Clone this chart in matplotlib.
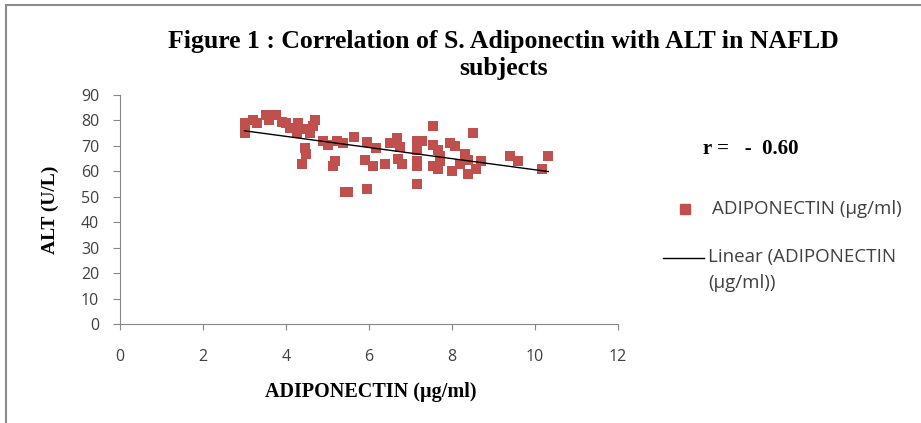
import numpy as np
import matplotlib.pyplot as plt
from matplotlib.lines import Line2D

# ADIPONECTIN (ug/ml) vs ALT (U/L)
adiponectin = [3.0, 3.0, 3.2, 3.3, 3.53, 3.6, 3.76, 3.9, 4.0, 4.1, 4.26, 4.3, 4.4,
               4.58, 4.64, 4.7, 4.46, 4.48, 4.38, 4.9, 5.02, 5.22, 5.38, 5.64,
               5.18, 5.14, 5.42, 5.5, 5.9, 6.1, 5.94, 5.94, 6.18, 6.39, 6.5, 6.67,
               6.75, 6.71, 6.8, 7.15, 7.27, 7.15, 7.15, 7.15, 7.15, 7.55, 8.5,
               7.55, 7.67, 7.95, 8.07, 8.31, 7.71, 7.71, 7.55, 7.67, 8.19, 8.39,
               8.71, 7.99, 8.39, 8.59, 9.4, 9.6, 10.32, 10.18]
alt = [79, 75, 80, 79, 82, 80, 82, 79.5, 79, 77, 75, 79, 76.5,
       75, 78, 80, 69, 67, 63, 72, 70.5, 72, 71, 73.5,
       64, 62, 52, 52, 64.5, 62, 71.5, 53, 69, 63, 71, 73,
       69.5, 65, 63, 72, 72, 68.5, 64, 62, 55, 78, 75,
       70.5, 68.5, 71, 70, 67, 66, 64, 62, 61, 63, 64.5,
       64, 60, 59, 61, 66, 64, 66, 61]

x_ticks = [0, 2, 4, 6, 8, 10, 12]
y_ticks = [0, 10, 20, 30, 40, 50, 60, 70, 80, 90]

red = '#C0504D'
serif = ['Liberation Serif', 'DejaVu Serif']
sans = ['Open Sans', 'DejaVu Sans']

fig = plt.figure(figsize=(9.21, 4.23), dpi=100)

# frame lines at top and left of the picture
fig.add_artist(Line2D([0.006, 1.0], [0.989, 0.989], color='#8c8c8c', lw=1.5))
fig.add_artist(Line2D([0.006, 0.006], [0.0, 0.989], color='#8c8c8c', lw=1.5))

ax = fig.add_axes([0.1303, 0.234, 0.5407, 0.5414])

ax.scatter(adiponectin, alt, marker='s', s=50, color=red, linewidths=0, zorder=3)

# linear trend line (least squares), over the data range
slope, icpt = np.polyfit(adiponectin, alt, 1)
xs = np.array([min(adiponectin), max(adiponectin)])
ax.plot(xs, slope * xs + icpt, color='black', lw=1.0, zorder=4)

ax.set_xlim(0, 12)
ax.set_ylim(0, 90)
ax.set_xticks(x_ticks)
ax.set_yticks(y_ticks)
for s in ['top', 'right']:
    ax.spines[s].set_visible(False)
for s in ['left', 'bottom']:
    ax.spines[s].set_color('#868686')
ax.tick_params(axis='y', length=5, color='#868686', pad=10, labelsize=11.5, labelcolor='#404040')
ax.tick_params(axis='x', length=4, color='#868686', pad=14, labelsize=11.5, labelcolor='#404040')
for lab in ax.get_xticklabels() + ax.get_yticklabels():
    lab.set_family(sans)

fig.text(0.547, 0.903, 'Figure 1 : Correlation of S. Adiponectin with ALT in NAFLD',
         ha='center', va='center', family=serif, fontweight='bold', fontsize=18.5)
fig.text(0.547, 0.839, 'subjects',
         ha='center', va='center', family=serif, fontweight='bold', fontsize=18.5)
fig.text(0.055, 0.503, 'ALT (U/L)', rotation=90, ha='center', va='center',
         family=serif, fontweight='bold', fontsize=14)
fig.text(0.403, 0.073, 'ADIPONECTIN (\u00b5g/ml)', ha='center', va='center',
         family=serif, fontweight='bold', fontsize=14.5)
fig.text(0.763, 0.648, 'r =   -  0.60', ha='left', va='center',
         family=serif, fontweight='bold', fontsize=15)

# legend, placed by hand like the original
fig.add_artist(Line2D([0.744], [0.506], marker='s', markersize=7, color=red, lw=0))
fig.text(0.773, 0.505, 'ADIPONECTIN (\u00b5g/ml)', ha='left', va='center',
         family=sans, fontsize=13.5, color='#404040')
fig.add_artist(Line2D([0.72, 0.764], [0.390, 0.390], color='black', lw=1.0))
fig.text(0.769, 0.392, 'Linear (ADIPONECTIN', ha='left', va='center',
         family=sans, fontsize=13.5, color='#404040')
fig.text(0.769, 0.331, '(\u00b5g/ml))', ha='left', va='center',
         family=sans, fontsize=13.5, color='#404040')

fig.savefig('out.png', dpi=100)
